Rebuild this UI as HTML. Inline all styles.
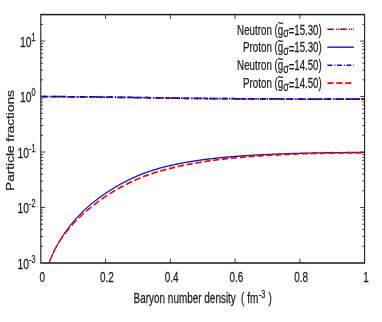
<!DOCTYPE html><html><head><meta charset="utf-8"><style>html,body{margin:0;padding:0;background:#fff}</style></head><body><svg width="382" height="322" viewBox="0 0 382 322" style="display:block"><rect width="382" height="322" fill="#fff"/><g transform="scale(0.73,1)"><path d="M55.89,246.30h3.15M499.45,246.30h-3.15M55.89,236.53h3.15M499.45,236.53h-3.15M55.89,229.60h3.15M499.45,229.60h-3.15M55.89,224.22h3.15M499.45,224.22h-3.15M55.89,219.83h3.15M499.45,219.83h-3.15M55.89,216.11h3.15M499.45,216.11h-3.15M55.89,212.89h3.15M499.45,212.89h-3.15M55.89,210.06h3.15M499.45,210.06h-3.15M55.89,207.52h6.03M499.45,207.52h-6.03M55.89,190.82h3.15M499.45,190.82h-3.15M55.89,181.05h3.15M499.45,181.05h-3.15M55.89,174.11h3.15M499.45,174.11h-3.15M55.89,168.74h3.15M499.45,168.74h-3.15M55.89,164.34h3.15M499.45,164.34h-3.15M55.89,160.63h3.15M499.45,160.63h-3.15M55.89,157.41h3.15M499.45,157.41h-3.15M55.89,154.57h3.15M499.45,154.57h-3.15M55.89,152.04h6.03M499.45,152.04h-6.03M55.89,135.33h3.15M499.45,135.33h-3.15M55.89,125.56h3.15M499.45,125.56h-3.15M55.89,118.63h3.15M499.45,118.63h-3.15M55.89,113.26h3.15M499.45,113.26h-3.15M55.89,108.86h3.15M499.45,108.86h-3.15M55.89,105.15h3.15M499.45,105.15h-3.15M55.89,101.93h3.15M499.45,101.93h-3.15M55.89,99.09h3.15M499.45,99.09h-3.15M55.89,96.55h6.03M499.45,96.55h-6.03M55.89,79.85h3.15M499.45,79.85h-3.15M55.89,70.08h3.15M499.45,70.08h-3.15M55.89,63.15h3.15M499.45,63.15h-3.15M55.89,57.77h3.15M499.45,57.77h-3.15M55.89,53.38h3.15M499.45,53.38h-3.15M55.89,49.67h3.15M499.45,49.67h-3.15M55.89,46.45h3.15M499.45,46.45h-3.15M55.89,43.61h3.15M499.45,43.61h-3.15M55.89,41.07h6.03M499.45,41.07h-6.03M55.89,24.37h3.15M499.45,24.37h-3.15M144.60,263.0v-4.4M144.60,14.6v4.4M233.32,263.0v-4.4M233.32,14.6v4.4M322.03,263.0v-4.4M322.03,14.6v4.4M410.74,263.0v-4.4M410.74,14.6v4.4" stroke="#1a1a1a" stroke-width="0.95" fill="none"/><path d="M55.89,96.65 L66.58,96.68 L67.23,96.68 L67.89,96.68 L68.54,96.68 L69.20,96.68 L69.86,96.68 L70.51,96.68 L71.17,96.69 L71.83,96.69 L72.48,96.69 L73.14,96.69 L73.80,96.69 L74.45,96.69 L75.11,96.70 L75.77,96.70 L76.42,96.70 L77.08,96.70 L77.73,96.70 L78.39,96.70 L79.05,96.71 L79.70,96.71 L80.36,96.71 L81.02,96.71 L81.67,96.71 L82.33,96.72 L82.99,96.72 L83.64,96.72 L84.30,96.72 L84.96,96.72 L85.61,96.73 L86.27,96.73 L86.92,96.73 L87.58,96.73 L88.24,96.74 L88.89,96.74 L89.55,96.74 L90.21,96.74 L90.86,96.75 L91.52,96.75 L92.18,96.75 L92.83,96.75 L93.49,96.76 L94.15,96.76 L94.80,96.76 L95.46,96.76 L96.11,96.77 L96.77,96.77 L97.43,96.77 L98.08,96.78 L98.74,96.78 L99.40,96.78 L100.05,96.79 L100.71,96.79 L101.37,96.79 L102.02,96.80 L102.68,96.80 L103.34,96.80 L103.99,96.80 L104.65,96.81 L105.30,96.81 L105.96,96.82 L106.62,96.82 L107.27,96.82 L107.93,96.83 L108.59,96.83 L109.24,96.83 L109.90,96.84 L110.56,96.84 L111.21,96.84 L111.87,96.85 L112.53,96.85 L113.18,96.86 L113.84,96.86 L114.49,96.86 L115.15,96.87 L115.81,96.87 L116.46,96.88 L117.12,96.88 L117.78,96.88 L118.43,96.89 L119.09,96.89 L119.75,96.90 L120.40,96.90 L121.06,96.91 L121.72,96.91 L122.37,96.91 L123.03,96.92 L123.68,96.92 L124.34,96.93 L125.00,96.93 L125.65,96.94 L126.31,96.94 L126.97,96.95 L127.62,96.95 L128.28,96.96 L128.94,96.96 L129.59,96.97 L130.25,96.97 L130.91,96.98 L131.56,96.98 L132.22,96.99 L132.87,96.99 L133.53,97.00 L134.19,97.00 L134.84,97.01 L135.50,97.01 L136.16,97.02 L136.81,97.02 L137.47,97.03 L138.13,97.04 L138.78,97.04 L139.44,97.05 L140.10,97.05 L140.75,97.06 L141.41,97.06 L142.06,97.07 L142.72,97.08 L143.38,97.08 L144.03,97.09 L144.69,97.09 L145.35,97.10 L146.00,97.11 L146.66,97.11 L147.32,97.12 L147.97,97.12 L148.63,97.13 L149.29,97.14 L149.94,97.14 L150.60,97.15 L151.25,97.15 L151.91,97.16 L152.57,97.17 L153.22,97.17 L153.88,97.18 L154.54,97.19 L155.19,97.19 L155.85,97.20 L156.51,97.21 L157.16,97.21 L157.82,97.22 L158.48,97.23 L159.13,97.23 L159.79,97.24 L160.44,97.25 L161.10,97.25 L161.76,97.26 L162.41,97.27 L163.07,97.28 L163.73,97.28 L164.38,97.29 L165.07,97.30 L166.41,97.31 L167.75,97.33 L169.10,97.34 L170.44,97.35 L171.78,97.37 L173.13,97.39 L174.47,97.40 L175.81,97.42 L177.15,97.43 L178.50,97.45 L179.84,97.46 L181.18,97.48 L182.53,97.50 L183.87,97.51 L185.21,97.53 L186.55,97.55 L187.90,97.56 L189.24,97.58 L190.58,97.59 L191.93,97.61 L193.27,97.63 L194.61,97.64 L195.96,97.66 L197.30,97.67 L198.64,97.69 L199.98,97.70 L201.33,97.72 L202.67,97.74 L204.01,97.75 L205.36,97.77 L206.70,97.78 L208.04,97.80 L209.38,97.81 L210.73,97.83 L212.07,97.84 L213.41,97.86 L214.76,97.87 L216.10,97.89 L217.44,97.90 L218.78,97.92 L220.13,97.93 L221.47,97.95 L222.81,97.96 L224.16,97.98 L225.50,97.99 L226.84,98.00 L228.19,98.02 L229.53,98.03 L230.87,98.05 L232.21,98.06 L233.56,98.07 L234.90,98.09 L236.24,98.10 L237.59,98.11 L238.93,98.13 L240.27,98.14 L241.61,98.15 L242.96,98.17 L244.30,98.18 L245.64,98.19 L246.99,98.20 L248.33,98.22 L249.67,98.23 L251.01,98.24 L252.36,98.25 L253.70,98.27 L255.04,98.28 L256.39,98.29 L257.73,98.30 L259.07,98.31 L260.41,98.33 L261.76,98.34 L263.10,98.35 L264.44,98.36 L265.79,98.37 L267.13,98.38 L268.47,98.39 L269.82,98.41 L271.16,98.42 L272.50,98.43 L273.84,98.44 L275.19,98.45 L276.53,98.46 L277.87,98.47 L279.22,98.48 L280.56,98.49 L281.90,98.50 L283.24,98.51 L284.59,98.52 L285.93,98.53 L287.27,98.54 L288.62,98.55 L289.96,98.56 L291.30,98.57 L292.64,98.58 L293.99,98.58 L295.33,98.59 L296.67,98.60 L298.02,98.61 L299.36,98.62 L300.70,98.63 L302.04,98.64 L303.39,98.64 L304.73,98.65 L306.07,98.66 L307.42,98.67 L308.76,98.68 L310.10,98.68 L311.45,98.69 L312.79,98.70 L314.13,98.71 L315.47,98.71 L316.82,98.72 L318.16,98.73 L319.50,98.74 L320.85,98.74 L322.19,98.75 L323.53,98.76 L324.87,98.76 L326.22,98.77 L327.56,98.78 L328.90,98.78 L330.25,98.79 L331.59,98.80 L332.93,98.80 L334.27,98.81 L335.62,98.81 L336.96,98.82 L338.30,98.83 L339.65,98.83 L340.99,98.84 L342.33,98.84 L343.67,98.85 L345.02,98.86 L346.36,98.86 L347.70,98.87 L349.05,98.87 L350.39,98.88 L351.73,98.88 L353.08,98.89 L354.42,98.89 L355.76,98.90 L357.10,98.90 L358.45,98.91 L359.79,98.91 L361.13,98.92 L362.48,98.92 L363.82,98.93 L365.16,98.93 L366.50,98.94 L367.85,98.94 L369.19,98.94 L370.53,98.95 L371.88,98.95 L373.22,98.96 L374.56,98.96 L375.90,98.97 L377.25,98.97 L378.59,98.97 L379.93,98.98 L381.28,98.98 L382.62,98.99 L383.96,98.99 L385.31,98.99 L386.65,99.00 L387.99,99.00 L389.33,99.00 L390.68,99.01 L392.02,99.01 L393.36,99.01 L394.71,99.02 L396.05,99.02 L397.39,99.02 L398.73,99.03 L400.08,99.03 L401.42,99.03 L402.76,99.04 L404.11,99.04 L405.45,99.04 L406.79,99.05 L408.13,99.05 L409.48,99.05 L410.82,99.05 L412.16,99.06 L413.51,99.06 L414.85,99.06 L416.19,99.06 L417.53,99.07 L418.88,99.07 L420.22,99.07 L421.56,99.07 L422.91,99.08 L424.25,99.08 L425.59,99.08 L426.94,99.08 L428.28,99.08 L429.62,99.09 L430.96,99.09 L432.31,99.09 L433.65,99.09 L434.99,99.09 L436.34,99.10 L437.68,99.10 L439.02,99.10 L440.36,99.10 L441.71,99.10 L443.05,99.11 L444.39,99.11 L445.74,99.11 L447.08,99.11 L448.42,99.11 L449.76,99.11 L451.11,99.11 L452.45,99.12 L453.79,99.12 L455.14,99.12 L456.48,99.12 L457.82,99.12 L459.16,99.12 L460.51,99.12 L461.85,99.13 L463.19,99.13 L464.54,99.13 L465.88,99.13 L467.22,99.13 L468.57,99.13 L469.91,99.13 L471.25,99.13 L472.59,99.14 L473.94,99.14 L475.28,99.14 L476.62,99.14 L477.97,99.14 L479.31,99.14 L480.65,99.14 L481.99,99.14 L483.34,99.14 L484.68,99.15 L486.02,99.15 L487.37,99.15 L488.71,99.15 L490.05,99.15 L491.39,99.15 L492.74,99.15 L494.08,99.15 L495.42,99.15 L496.77,99.15 L498.11,99.15 L499.45,99.15" stroke="#8b0000" stroke-width="1.75" fill="none" stroke-dasharray="8.6 3.4 1.4 1.4 1.4 1.4" stroke-dashoffset="16.2"/><path d="M67.23,262.62 L67.89,261.43 L68.54,260.27 L69.20,259.12 L69.86,258.00 L70.51,256.90 L71.17,255.81 L71.83,254.75 L72.48,253.71 L73.14,252.69 L73.80,251.69 L74.45,250.71 L75.11,249.74 L75.77,248.80 L76.42,247.87 L77.08,246.95 L77.73,246.05 L78.39,245.17 L79.05,244.30 L79.70,243.44 L80.36,242.60 L81.02,241.77 L81.67,240.96 L82.33,240.16 L82.99,239.37 L83.64,238.59 L84.30,237.82 L84.96,237.06 L85.61,236.32 L86.27,235.58 L86.92,234.86 L87.58,234.14 L88.24,233.44 L88.89,232.74 L89.55,232.05 L90.21,231.38 L90.86,230.71 L91.52,230.05 L92.18,229.39 L92.83,228.75 L93.49,228.11 L94.15,227.48 L94.80,226.86 L95.46,226.24 L96.11,225.63 L96.77,225.03 L97.43,224.44 L98.08,223.85 L98.74,223.27 L99.40,222.69 L100.05,222.12 L100.71,221.56 L101.37,221.00 L102.02,220.45 L102.68,219.91 L103.34,219.37 L103.99,218.83 L104.65,218.30 L105.30,217.78 L105.96,217.26 L106.62,216.74 L107.27,216.23 L107.93,215.73 L108.59,215.22 L109.24,214.73 L109.90,214.24 L110.56,213.75 L111.21,213.27 L111.87,212.79 L112.53,212.31 L113.18,211.84 L113.84,211.38 L114.49,210.91 L115.15,210.46 L115.81,210.00 L116.46,209.55 L117.12,209.11 L117.78,208.67 L118.43,208.24 L119.09,207.81 L119.75,207.38 L120.40,206.95 L121.06,206.53 L121.72,206.12 L122.37,205.70 L123.03,205.29 L123.68,204.88 L124.34,204.48 L125.00,204.08 L125.65,203.68 L126.31,203.28 L126.97,202.89 L127.62,202.50 L128.28,202.11 L128.94,201.73 L129.59,201.34 L130.25,200.97 L130.91,200.59 L131.56,200.21 L132.22,199.84 L132.87,199.47 L133.53,199.11 L134.19,198.74 L134.84,198.38 L135.50,198.03 L136.16,197.67 L136.81,197.32 L137.47,196.96 L138.13,196.61 L138.78,196.27 L139.44,195.92 L140.10,195.58 L140.75,195.24 L141.41,194.90 L142.06,194.57 L142.72,194.24 L143.38,193.91 L144.03,193.58 L144.69,193.26 L145.35,192.94 L146.00,192.62 L146.66,192.30 L147.32,191.99 L147.97,191.67 L148.63,191.36 L149.29,191.06 L149.94,190.75 L150.60,190.45 L151.25,190.15 L151.91,189.85 L152.57,189.56 L153.22,189.27 L153.88,188.97 L154.54,188.67 L155.19,188.38 L155.85,188.08 L156.51,187.79 L157.16,187.50 L157.82,187.22 L158.48,186.93 L159.13,186.65 L159.79,186.37 L160.44,186.09 L161.10,185.82 L161.76,185.55 L162.41,185.27 L163.07,185.01 L163.73,184.74 L164.38,184.47 L165.07,184.20 L166.41,183.67 L167.75,183.15 L169.10,182.64 L170.44,182.13 L171.78,181.63 L173.13,181.12 L174.47,180.61 L175.81,180.12 L177.15,179.63 L178.50,179.15 L179.84,178.68 L181.18,178.22 L182.53,177.76 L183.87,177.31 L185.21,176.87 L186.55,176.44 L187.90,176.01 L189.24,175.59 L190.58,175.17 L191.93,174.77 L193.27,174.38 L194.61,174.00 L195.96,173.63 L197.30,173.27 L198.64,172.91 L199.98,172.56 L201.33,172.21 L202.67,171.87 L204.01,171.53 L205.36,171.20 L206.70,170.88 L208.04,170.56 L209.38,170.25 L210.73,169.94 L212.07,169.64 L213.41,169.34 L214.76,169.04 L216.10,168.76 L217.44,168.47 L218.78,168.19 L220.13,167.92 L221.47,167.66 L222.81,167.40 L224.16,167.15 L225.50,166.90 L226.84,166.66 L228.19,166.41 L229.53,166.18 L230.87,165.94 L232.21,165.71 L233.56,165.49 L234.90,165.27 L236.24,165.05 L237.59,164.83 L238.93,164.62 L240.27,164.41 L241.61,164.21 L242.96,164.01 L244.30,163.81 L245.64,163.61 L246.99,163.42 L248.33,163.23 L249.67,163.05 L251.01,162.86 L252.36,162.68 L253.70,162.51 L255.04,162.33 L256.39,162.16 L257.73,161.99 L259.07,161.83 L260.41,161.66 L261.76,161.50 L263.10,161.34 L264.44,161.19 L265.79,161.03 L267.13,160.88 L268.47,160.74 L269.82,160.59 L271.16,160.45 L272.50,160.30 L273.84,160.17 L275.19,160.03 L276.53,159.89 L277.87,159.76 L279.22,159.63 L280.56,159.50 L281.90,159.38 L283.24,159.25 L284.59,159.13 L285.93,159.01 L287.27,158.89 L288.62,158.78 L289.96,158.66 L291.30,158.55 L292.64,158.44 L293.99,158.33 L295.33,158.22 L296.67,158.12 L298.02,158.02 L299.36,157.91 L300.70,157.81 L302.04,157.72 L303.39,157.62 L304.73,157.53 L306.07,157.43 L307.42,157.34 L308.76,157.25 L310.10,157.16 L311.45,157.08 L312.79,156.99 L314.13,156.91 L315.47,156.82 L316.82,156.74 L318.16,156.66 L319.50,156.58 L320.85,156.51 L322.19,156.43 L323.53,156.35 L324.87,156.28 L326.22,156.21 L327.56,156.14 L328.90,156.07 L330.25,156.00 L331.59,155.93 L332.93,155.86 L334.27,155.79 L335.62,155.73 L336.96,155.67 L338.30,155.60 L339.65,155.54 L340.99,155.48 L342.33,155.42 L343.67,155.36 L345.02,155.30 L346.36,155.24 L347.70,155.19 L349.05,155.13 L350.39,155.08 L351.73,155.02 L353.08,154.97 L354.42,154.92 L355.76,154.87 L357.10,154.81 L358.45,154.76 L359.79,154.72 L361.13,154.67 L362.48,154.62 L363.82,154.57 L365.16,154.53 L366.50,154.48 L367.85,154.44 L369.19,154.39 L370.53,154.35 L371.88,154.31 L373.22,154.26 L374.56,154.22 L375.90,154.18 L377.25,154.14 L378.59,154.10 L379.93,154.06 L381.28,154.02 L382.62,153.99 L383.96,153.95 L385.31,153.91 L386.65,153.88 L387.99,153.84 L389.33,153.81 L390.68,153.77 L392.02,153.74 L393.36,153.70 L394.71,153.67 L396.05,153.64 L397.39,153.61 L398.73,153.57 L400.08,153.54 L401.42,153.51 L402.76,153.48 L404.11,153.45 L405.45,153.42 L406.79,153.39 L408.13,153.37 L409.48,153.34 L410.82,153.31 L412.16,153.29 L413.51,153.26 L414.85,153.24 L416.19,153.22 L417.53,153.20 L418.88,153.17 L420.22,153.15 L421.56,153.13 L422.91,153.11 L424.25,153.09 L425.59,153.07 L426.94,153.05 L428.28,153.03 L429.62,153.01 L430.96,152.99 L432.31,152.97 L433.65,152.95 L434.99,152.94 L436.34,152.92 L437.68,152.90 L439.02,152.89 L440.36,152.87 L441.71,152.85 L443.05,152.84 L444.39,152.82 L445.74,152.81 L447.08,152.79 L448.42,152.78 L449.76,152.76 L451.11,152.75 L452.45,152.73 L453.79,152.72 L455.14,152.70 L456.48,152.69 L457.82,152.68 L459.16,152.67 L460.51,152.65 L461.85,152.64 L463.19,152.63 L464.54,152.62 L465.88,152.61 L467.22,152.59 L468.57,152.58 L469.91,152.57 L471.25,152.56 L472.59,152.55 L473.94,152.54 L475.28,152.53 L476.62,152.52 L477.97,152.51 L479.31,152.50 L480.65,152.49 L481.99,152.48 L483.34,152.47 L484.68,152.46 L486.02,152.46 L487.37,152.45 L488.71,152.44 L490.05,152.43 L491.39,152.42 L492.74,152.41 L494.08,152.41 L495.42,152.40 L496.77,152.39 L498.11,152.38 L499.45,152.38" stroke="#1414b6" stroke-width="1.35" fill="none"/><path d="M55.89,96.65 L66.58,96.68 L67.23,96.68 L67.89,96.68 L68.54,96.68 L69.20,96.68 L69.86,96.68 L70.51,96.68 L71.17,96.69 L71.83,96.69 L72.48,96.69 L73.14,96.69 L73.80,96.69 L74.45,96.69 L75.11,96.70 L75.77,96.70 L76.42,96.70 L77.08,96.70 L77.73,96.70 L78.39,96.70 L79.05,96.71 L79.70,96.71 L80.36,96.71 L81.02,96.71 L81.67,96.71 L82.33,96.72 L82.99,96.72 L83.64,96.72 L84.30,96.72 L84.96,96.72 L85.61,96.73 L86.27,96.73 L86.92,96.73 L87.58,96.73 L88.24,96.74 L88.89,96.74 L89.55,96.74 L90.21,96.74 L90.86,96.75 L91.52,96.75 L92.18,96.75 L92.83,96.75 L93.49,96.76 L94.15,96.76 L94.80,96.76 L95.46,96.76 L96.11,96.77 L96.77,96.77 L97.43,96.77 L98.08,96.78 L98.74,96.78 L99.40,96.78 L100.05,96.79 L100.71,96.79 L101.37,96.79 L102.02,96.80 L102.68,96.80 L103.34,96.80 L103.99,96.80 L104.65,96.81 L105.30,96.81 L105.96,96.82 L106.62,96.82 L107.27,96.82 L107.93,96.83 L108.59,96.83 L109.24,96.83 L109.90,96.84 L110.56,96.84 L111.21,96.84 L111.87,96.85 L112.53,96.85 L113.18,96.86 L113.84,96.86 L114.49,96.86 L115.15,96.87 L115.81,96.87 L116.46,96.88 L117.12,96.88 L117.78,96.88 L118.43,96.89 L119.09,96.89 L119.75,96.90 L120.40,96.90 L121.06,96.91 L121.72,96.91 L122.37,96.91 L123.03,96.92 L123.68,96.92 L124.34,96.93 L125.00,96.93 L125.65,96.94 L126.31,96.94 L126.97,96.95 L127.62,96.95 L128.28,96.96 L128.94,96.96 L129.59,96.97 L130.25,96.97 L130.91,96.98 L131.56,96.98 L132.22,96.99 L132.87,96.99 L133.53,97.00 L134.19,97.00 L134.84,97.01 L135.50,97.01 L136.16,97.02 L136.81,97.02 L137.47,97.03 L138.13,97.04 L138.78,97.04 L139.44,97.05 L140.10,97.05 L140.75,97.06 L141.41,97.06 L142.06,97.07 L142.72,97.08 L143.38,97.08 L144.03,97.09 L144.69,97.09 L145.35,97.10 L146.00,97.11 L146.66,97.11 L147.32,97.12 L147.97,97.12 L148.63,97.13 L149.29,97.14 L149.94,97.14 L150.60,97.15 L151.25,97.15 L151.91,97.16 L152.57,97.17 L153.22,97.17 L153.88,97.18 L154.54,97.19 L155.19,97.19 L155.85,97.20 L156.51,97.21 L157.16,97.21 L157.82,97.22 L158.48,97.23 L159.13,97.23 L159.79,97.24 L160.44,97.25 L161.10,97.25 L161.76,97.26 L162.41,97.27 L163.07,97.28 L163.73,97.28 L164.38,97.29 L165.07,97.30 L166.41,97.31 L167.75,97.33 L169.10,97.34 L170.44,97.35 L171.78,97.37 L173.13,97.39 L174.47,97.40 L175.81,97.42 L177.15,97.43 L178.50,97.45 L179.84,97.46 L181.18,97.48 L182.53,97.50 L183.87,97.51 L185.21,97.53 L186.55,97.55 L187.90,97.56 L189.24,97.58 L190.58,97.59 L191.93,97.61 L193.27,97.63 L194.61,97.64 L195.96,97.66 L197.30,97.67 L198.64,97.69 L199.98,97.70 L201.33,97.72 L202.67,97.74 L204.01,97.75 L205.36,97.77 L206.70,97.78 L208.04,97.80 L209.38,97.81 L210.73,97.83 L212.07,97.84 L213.41,97.86 L214.76,97.87 L216.10,97.89 L217.44,97.90 L218.78,97.92 L220.13,97.93 L221.47,97.95 L222.81,97.96 L224.16,97.98 L225.50,97.99 L226.84,98.00 L228.19,98.02 L229.53,98.03 L230.87,98.05 L232.21,98.06 L233.56,98.07 L234.90,98.09 L236.24,98.10 L237.59,98.11 L238.93,98.13 L240.27,98.14 L241.61,98.15 L242.96,98.17 L244.30,98.18 L245.64,98.19 L246.99,98.20 L248.33,98.22 L249.67,98.23 L251.01,98.24 L252.36,98.25 L253.70,98.27 L255.04,98.28 L256.39,98.29 L257.73,98.30 L259.07,98.31 L260.41,98.33 L261.76,98.34 L263.10,98.35 L264.44,98.36 L265.79,98.37 L267.13,98.38 L268.47,98.39 L269.82,98.41 L271.16,98.42 L272.50,98.43 L273.84,98.44 L275.19,98.45 L276.53,98.46 L277.87,98.47 L279.22,98.48 L280.56,98.49 L281.90,98.50 L283.24,98.51 L284.59,98.52 L285.93,98.53 L287.27,98.54 L288.62,98.55 L289.96,98.56 L291.30,98.57 L292.64,98.58 L293.99,98.58 L295.33,98.59 L296.67,98.60 L298.02,98.61 L299.36,98.62 L300.70,98.63 L302.04,98.64 L303.39,98.64 L304.73,98.65 L306.07,98.66 L307.42,98.67 L308.76,98.68 L310.10,98.68 L311.45,98.69 L312.79,98.70 L314.13,98.71 L315.47,98.71 L316.82,98.72 L318.16,98.73 L319.50,98.74 L320.85,98.74 L322.19,98.75 L323.53,98.76 L324.87,98.76 L326.22,98.77 L327.56,98.78 L328.90,98.78 L330.25,98.79 L331.59,98.80 L332.93,98.80 L334.27,98.81 L335.62,98.81 L336.96,98.82 L338.30,98.83 L339.65,98.83 L340.99,98.84 L342.33,98.84 L343.67,98.85 L345.02,98.86 L346.36,98.86 L347.70,98.87 L349.05,98.87 L350.39,98.88 L351.73,98.88 L353.08,98.89 L354.42,98.89 L355.76,98.90 L357.10,98.90 L358.45,98.91 L359.79,98.91 L361.13,98.92 L362.48,98.92 L363.82,98.93 L365.16,98.93 L366.50,98.94 L367.85,98.94 L369.19,98.94 L370.53,98.95 L371.88,98.95 L373.22,98.96 L374.56,98.96 L375.90,98.97 L377.25,98.97 L378.59,98.97 L379.93,98.98 L381.28,98.98 L382.62,98.99 L383.96,98.99 L385.31,98.99 L386.65,99.00 L387.99,99.00 L389.33,99.00 L390.68,99.01 L392.02,99.01 L393.36,99.01 L394.71,99.02 L396.05,99.02 L397.39,99.02 L398.73,99.03 L400.08,99.03 L401.42,99.03 L402.76,99.04 L404.11,99.04 L405.45,99.04 L406.79,99.05 L408.13,99.05 L409.48,99.05 L410.82,99.05 L412.16,99.06 L413.51,99.06 L414.85,99.06 L416.19,99.06 L417.53,99.07 L418.88,99.07 L420.22,99.07 L421.56,99.07 L422.91,99.08 L424.25,99.08 L425.59,99.08 L426.94,99.08 L428.28,99.08 L429.62,99.09 L430.96,99.09 L432.31,99.09 L433.65,99.09 L434.99,99.09 L436.34,99.10 L437.68,99.10 L439.02,99.10 L440.36,99.10 L441.71,99.10 L443.05,99.11 L444.39,99.11 L445.74,99.11 L447.08,99.11 L448.42,99.11 L449.76,99.11 L451.11,99.11 L452.45,99.12 L453.79,99.12 L455.14,99.12 L456.48,99.12 L457.82,99.12 L459.16,99.12 L460.51,99.12 L461.85,99.13 L463.19,99.13 L464.54,99.13 L465.88,99.13 L467.22,99.13 L468.57,99.13 L469.91,99.13 L471.25,99.13 L472.59,99.14 L473.94,99.14 L475.28,99.14 L476.62,99.14 L477.97,99.14 L479.31,99.14 L480.65,99.14 L481.99,99.14 L483.34,99.14 L484.68,99.15 L486.02,99.15 L487.37,99.15 L488.71,99.15 L490.05,99.15 L491.39,99.15 L492.74,99.15 L494.08,99.15 L495.42,99.15 L496.77,99.15 L498.11,99.15 L499.45,99.15" stroke="#0000ff" stroke-width="1.75" fill="none" stroke-dasharray="6.8 2.7 1.4 2.1" stroke-dashoffset="11.6"/><path d="M67.23,262.71 L67.89,261.53 L68.54,260.34 L69.20,259.17 L69.86,258.01 L70.51,256.87 L71.17,255.75 L71.83,254.66 L72.48,253.59 L73.14,252.55 L73.80,251.53 L74.45,250.55 L75.11,249.59 L75.77,248.65 L76.42,247.75 L77.08,246.87 L77.73,246.01 L78.39,245.18 L79.05,244.38 L79.70,243.58 L80.36,242.79 L81.02,242.02 L81.67,241.26 L82.33,240.52 L82.99,239.80 L83.64,239.08 L84.30,238.38 L84.96,237.69 L85.61,237.01 L86.27,236.34 L86.92,235.68 L87.58,235.03 L88.24,234.39 L88.89,233.75 L89.55,233.12 L90.21,232.50 L90.86,231.90 L91.52,231.30 L92.18,230.71 L92.83,230.12 L93.49,229.54 L94.15,228.96 L94.80,228.39 L95.46,227.82 L96.11,227.26 L96.77,226.70 L97.43,226.14 L98.08,225.59 L98.74,225.04 L99.40,224.50 L100.05,223.96 L100.71,223.42 L101.37,222.88 L102.02,222.38 L102.68,221.89 L103.34,221.39 L103.99,220.90 L104.65,220.41 L105.30,219.93 L105.96,219.45 L106.62,218.97 L107.27,218.50 L107.93,218.03 L108.59,217.56 L109.24,217.10 L109.90,216.64 L110.56,216.18 L111.21,215.72 L111.87,215.27 L112.53,214.83 L113.18,214.39 L113.84,213.96 L114.49,213.53 L115.15,213.10 L115.81,212.68 L116.46,212.25 L117.12,211.84 L117.78,211.44 L118.43,211.03 L119.09,210.63 L119.75,210.23 L120.40,209.83 L121.06,209.44 L121.72,209.05 L122.37,208.67 L123.03,208.29 L123.68,207.89 L124.34,207.49 L125.00,207.09 L125.65,206.70 L126.31,206.31 L126.97,205.92 L127.62,205.53 L128.28,205.15 L128.94,204.77 L129.59,204.39 L130.25,204.01 L130.91,203.64 L131.56,203.27 L132.22,202.91 L132.87,202.54 L133.53,202.18 L134.19,201.82 L134.84,201.46 L135.50,201.11 L136.16,200.76 L136.81,200.41 L137.47,200.06 L138.13,199.71 L138.78,199.37 L139.44,199.03 L140.10,198.69 L140.75,198.36 L141.41,198.02 L142.06,197.69 L142.72,197.36 L143.38,197.04 L144.03,196.72 L144.69,196.40 L145.35,196.08 L146.00,195.76 L146.66,195.45 L147.32,195.14 L147.97,194.83 L148.63,194.52 L149.29,194.22 L149.94,193.92 L150.60,193.62 L151.25,193.32 L151.91,193.03 L152.57,192.73 L153.22,192.44 L153.88,192.15 L154.54,191.85 L155.19,191.56 L155.85,191.27 L156.51,190.98 L157.16,190.69 L157.82,190.41 L158.48,190.13 L159.13,189.85 L159.79,189.57 L160.44,189.29 L161.10,189.02 L161.76,188.75 L162.41,188.48 L163.07,188.21 L163.73,187.95 L164.38,187.68 L165.07,187.41 L166.41,186.88 L167.75,186.36 L169.10,185.85 L170.44,185.35 L171.78,184.84 L173.13,184.33 L174.47,183.83 L175.81,183.33 L177.15,182.84 L178.50,182.36 L179.84,181.89 L181.18,181.42 L182.53,180.97 L183.87,180.51 L185.21,180.07 L186.55,179.63 L187.90,179.20 L189.24,178.77 L190.58,178.35 L191.93,177.94 L193.27,177.55 L194.61,177.17 L195.96,176.79 L197.30,176.42 L198.64,176.05 L199.98,175.69 L201.33,175.33 L202.67,174.99 L204.01,174.64 L205.36,174.30 L206.70,173.97 L208.04,173.64 L209.38,173.32 L210.73,173.00 L212.07,172.69 L213.41,172.38 L214.76,172.08 L216.10,171.78 L217.44,171.48 L218.78,171.19 L220.13,170.91 L221.47,170.63 L222.81,170.35 L224.16,170.08 L225.50,169.81 L226.84,169.55 L228.19,169.29 L229.53,169.04 L230.87,168.78 L232.21,168.54 L233.56,168.29 L234.90,168.05 L236.24,167.81 L237.59,167.58 L238.93,167.35 L240.27,167.12 L241.61,166.89 L242.96,166.67 L244.30,166.45 L245.64,166.24 L246.99,166.02 L248.33,165.81 L249.67,165.61 L251.01,165.40 L252.36,165.20 L253.70,165.00 L255.04,164.81 L256.39,164.61 L257.73,164.42 L259.07,164.24 L260.41,164.05 L261.76,163.87 L263.10,163.69 L264.44,163.51 L265.79,163.33 L267.13,163.16 L268.47,162.99 L269.82,162.82 L271.16,162.65 L272.50,162.49 L273.84,162.32 L275.19,162.16 L276.53,162.01 L277.87,161.85 L279.22,161.70 L280.56,161.54 L281.90,161.39 L283.24,161.25 L284.59,161.10 L285.93,160.95 L287.27,160.81 L288.62,160.67 L289.96,160.53 L291.30,160.40 L292.64,160.26 L293.99,160.13 L295.33,159.99 L296.67,159.86 L298.02,159.74 L299.36,159.61 L300.70,159.48 L302.04,159.36 L303.39,159.25 L304.73,159.14 L306.07,159.03 L307.42,158.92 L308.76,158.81 L310.10,158.70 L311.45,158.60 L312.79,158.50 L314.13,158.40 L315.47,158.29 L316.82,158.20 L318.16,158.10 L319.50,158.00 L320.85,157.91 L322.19,157.81 L323.53,157.72 L324.87,157.63 L326.22,157.54 L327.56,157.45 L328.90,157.36 L330.25,157.28 L331.59,157.19 L332.93,157.11 L334.27,157.03 L335.62,156.95 L336.96,156.87 L338.30,156.79 L339.65,156.71 L340.99,156.63 L342.33,156.56 L343.67,156.48 L345.02,156.41 L346.36,156.33 L347.70,156.26 L349.05,156.19 L350.39,156.12 L351.73,156.05 L353.08,155.99 L354.42,155.92 L355.76,155.86 L357.10,155.79 L358.45,155.73 L359.79,155.66 L361.13,155.60 L362.48,155.54 L363.82,155.48 L365.16,155.42 L366.50,155.37 L367.85,155.31 L369.19,155.25 L370.53,155.20 L371.88,155.14 L373.22,155.09 L374.56,155.03 L375.90,154.98 L377.25,154.93 L378.59,154.88 L379.93,154.83 L381.28,154.78 L382.62,154.73 L383.96,154.69 L385.31,154.64 L386.65,154.59 L387.99,154.55 L389.33,154.50 L390.68,154.46 L392.02,154.42 L393.36,154.38 L394.71,154.33 L396.05,154.29 L397.39,154.25 L398.73,154.21 L400.08,154.18 L401.42,154.14 L402.76,154.10 L404.11,154.06 L405.45,154.03 L406.79,153.99 L408.13,153.96 L409.48,153.92 L410.82,153.89 L412.16,153.86 L413.51,153.83 L414.85,153.79 L416.19,153.76 L417.53,153.73 L418.88,153.70 L420.22,153.68 L421.56,153.65 L422.91,153.62 L424.25,153.59 L425.59,153.57 L426.94,153.54 L428.28,153.52 L429.62,153.49 L430.96,153.47 L432.31,153.44 L433.65,153.42 L434.99,153.40 L436.34,153.38 L437.68,153.35 L439.02,153.33 L440.36,153.31 L441.71,153.29 L443.05,153.27 L444.39,153.25 L445.74,153.24 L447.08,153.22 L448.42,153.20 L449.76,153.18 L451.11,153.17 L452.45,153.15 L453.79,153.13 L455.14,153.12 L456.48,153.10 L457.82,153.09 L459.16,153.08 L460.51,153.06 L461.85,153.05 L463.19,153.04 L464.54,153.03 L465.88,153.01 L467.22,153.00 L468.57,152.99 L469.91,152.98 L471.25,152.97 L472.59,152.96 L473.94,152.95 L475.28,152.94 L476.62,152.94 L477.97,152.93 L479.31,152.92 L480.65,152.91 L481.99,152.91 L483.34,152.90 L484.68,152.89 L486.02,152.89 L487.37,152.88 L488.71,152.88 L490.05,152.87 L491.39,152.87 L492.74,152.86 L494.08,152.86 L495.42,152.86 L496.77,152.85 L498.11,152.85 L499.45,152.85" stroke="#ff0000" stroke-width="1.7" fill="none" stroke-dasharray="8.5 3.7"/><rect x="55.89" y="14.6" width="443.56" height="248.4" stroke="#1a1a1a" stroke-width="1.5" fill="none"/><path d="M448.49,29.2H484.79" stroke="#8b0000" stroke-width="1.6" stroke-dasharray="8.6 3.4 1.4 1.4 1.4 1.4"/><path d="M448.49,47.2H484.79" stroke="#1414b6" stroke-width="1.35"/><path d="M448.49,65.2H484.79" stroke="#0000ff" stroke-width="1.6" stroke-dasharray="6.8 2.7 1.4 2.1"/><path d="M448.49,83.1H484.79" stroke="#ff0000" stroke-width="1.6" stroke-dasharray="8.5 3.7"/></g><g font-family="Liberation Sans, sans-serif" fill="#1a1a1a" stroke="#1a1a1a" stroke-width="0.25" opacity="0.99"><text transform="translate(283.20,34.50) scale(0.6877,1)" font-size="14.2" text-anchor="end">Neutron (g</text><text transform="translate(283.20,36.80) scale(0.7300,1)" font-size="12.4" text-anchor="start">σ</text><text transform="translate(321.70,34.50) scale(0.6818,1)" font-size="14.2" text-anchor="end">15.30)</text><text transform="translate(288.70,36.20) scale(0.6818,1)" font-size="14.2" text-anchor="start">=</text><text transform="translate(280.60,28.15) scale(0.7300,1)" font-size="14.2" text-anchor="middle">~</text><text transform="translate(283.20,52.20) scale(0.6877,1)" font-size="14.2" text-anchor="end">Proton (g</text><text transform="translate(283.20,54.50) scale(0.7300,1)" font-size="12.4" text-anchor="start">σ</text><text transform="translate(321.70,52.20) scale(0.6818,1)" font-size="14.2" text-anchor="end">15.30)</text><text transform="translate(288.70,53.90) scale(0.6818,1)" font-size="14.2" text-anchor="start">=</text><text transform="translate(280.60,45.85) scale(0.7300,1)" font-size="14.2" text-anchor="middle">~</text><text transform="translate(283.20,70.30) scale(0.6877,1)" font-size="14.2" text-anchor="end">Neutron (g</text><text transform="translate(283.20,72.60) scale(0.7300,1)" font-size="12.4" text-anchor="start">σ</text><text transform="translate(321.70,70.30) scale(0.6818,1)" font-size="14.2" text-anchor="end">14.50)</text><text transform="translate(288.70,72.00) scale(0.6818,1)" font-size="14.2" text-anchor="start">=</text><text transform="translate(280.60,63.95) scale(0.7300,1)" font-size="14.2" text-anchor="middle">~</text><text transform="translate(283.20,88.20) scale(0.6877,1)" font-size="14.2" text-anchor="end">Proton (g</text><text transform="translate(283.20,90.50) scale(0.7300,1)" font-size="12.4" text-anchor="start">σ</text><text transform="translate(321.70,88.20) scale(0.6818,1)" font-size="14.2" text-anchor="end">14.50)</text><text transform="translate(288.70,89.90) scale(0.6818,1)" font-size="14.2" text-anchor="start">=</text><text transform="translate(280.60,81.85) scale(0.7300,1)" font-size="14.2" text-anchor="middle">~</text><text transform="translate(35.50,268.90) scale(0.7300,1)" font-size="14.2" text-anchor="end">10<tspan font-size="10.0" dy="-6.0">-3</tspan></text><text transform="translate(35.50,213.42) scale(0.7300,1)" font-size="14.2" text-anchor="end">10<tspan font-size="10.0" dy="-6.0">-2</tspan></text><text transform="translate(35.50,157.94) scale(0.7300,1)" font-size="14.2" text-anchor="end">10<tspan font-size="10.0" dy="-6.0">-1</tspan></text><text transform="translate(35.50,102.45) scale(0.7300,1)" font-size="14.2" text-anchor="end">10<tspan font-size="10.0" dy="-6.0">0</tspan></text><text transform="translate(35.50,46.97) scale(0.7300,1)" font-size="14.2" text-anchor="end">10<tspan font-size="10.0" dy="-6.0">1</tspan></text><text transform="translate(42.20,282.10) scale(0.7008,1)" font-size="14.2" text-anchor="middle">0</text><text transform="translate(106.96,282.10) scale(0.7008,1)" font-size="14.2" text-anchor="middle">0.2</text><text transform="translate(171.72,282.10) scale(0.7008,1)" font-size="14.2" text-anchor="middle">0.4</text><text transform="translate(236.48,282.10) scale(0.7008,1)" font-size="14.2" text-anchor="middle">0.6</text><text transform="translate(301.24,282.10) scale(0.7008,1)" font-size="14.2" text-anchor="middle">0.8</text><text transform="translate(366.00,282.10) scale(0.7008,1)" font-size="14.2" text-anchor="middle">1</text><text transform="translate(133.60,302.80) scale(0.7008,1)" font-size="14.2" text-anchor="start">Baryon number density</text><text transform="translate(240.90,302.80) scale(0.7008,1)" font-size="14.2" text-anchor="start">(</text><text transform="translate(247.20,302.80) scale(0.7008,1)" font-size="14.2" text-anchor="start">fm</text><text transform="translate(258.70,298.40) scale(0.7008,1)" font-size="10.6" text-anchor="start">-3</text><text transform="translate(268.40,302.80) scale(0.7008,1)" font-size="14.2" text-anchor="start">)</text><text transform="translate(13.7,190.9) scale(0.8176,1) rotate(-90)" font-size="13.65">Particle fractions</text></g></svg></body></html>
